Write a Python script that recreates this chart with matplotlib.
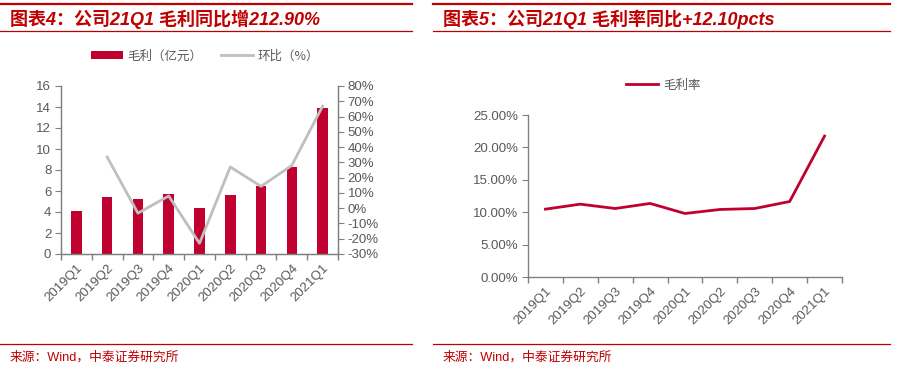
import matplotlib
matplotlib.use("Agg")
import matplotlib.pyplot as plt
from matplotlib.lines import Line2D
from matplotlib.patches import Patch
import numpy as np

plt.rcParams['font.family'] = ['Liberation Sans', 'Noto Sans CJK SC', 'DejaVu Sans']

quarters = ['2019Q1', '2019Q2', '2019Q3', '2019Q4', '2020Q1', '2020Q2', '2020Q3', '2020Q4', '2021Q1']
gross_profit = [4.1, 5.45, 5.25, 5.72, 4.38, 5.62, 6.47, 8.3, 13.9]  # 亿元
qoq_pct = [np.nan, 33.5, -3.3, 8.0, -23.0, 27.0, 14.3, 28.0, 66.8]  # %
gross_margin = [10.47, 11.24, 10.57, 11.35, 9.8, 10.42, 10.57, 11.65, 21.75]  # %

left_title = '图表4：公司21Q1 毛利同比增212.90%'
right_title = '图表5：公司21Q1 毛利率同比+12.10pcts'
source = '来源：Wind，中泰证券研究所'

RED = '#C00000'
BAR = '#C0002F'
GRAY_LINE = '#BFBFBF'
TXT = '#595959'
SPINE = '#808080'

W, H = 908, 373
fig = plt.figure(figsize=(W / 100, H / 100), dpi=100)

def fx(px):
    return px / W

def fy(py):
    return 1 - py / H

# Header / footer decorations
for x0, x1 in [(0, 412), (433, 890)]:
    fig.add_artist(Line2D([fx(x0), fx(x1)], [fy(4), fy(4)], color=RED, lw=1.6))
    fig.add_artist(Line2D([fx(x0), fx(x1)], [fy(31), fy(31)], color=RED, lw=0.9))
    fig.add_artist(Line2D([fx(x0), fx(x1)], [fy(344), fy(344)], color=RED, lw=0.9))

tfont = dict(family=['Liberation Sans', 'Noto Sans CJK SC'], weight='bold', style='italic',
             size=13, color=RED)
fig.text(fx(10), fy(19), left_title, ha='left', va='center', **tfont)
fig.text(fx(443), fy(19), right_title, ha='left', va='center', **tfont)
sfont = dict(family=['Liberation Sans', 'Noto Sans CJK SC'], size=9.2, color=RED)
fig.text(fx(10), fy(357), source, ha='left', va='center', **sfont)
fig.text(fx(443), fy(357), source, ha='left', va='center', **sfont)

x = np.arange(len(quarters))

def style_xaxis(ax):
    ax.set_xlim(-0.5, len(quarters) - 0.5)
    ax.set_xticks(x)
    ax.set_xticklabels(quarters, rotation=45, ha='right', va='top', rotation_mode='anchor',
                       fontsize=9.5, color=TXT)
    ax.set_xticks(np.arange(len(quarters) + 1) - 0.5, minor=True)
    ax.tick_params(axis='x', which='major', length=0, pad=6)
    ax.tick_params(axis='x', which='minor', length=4, color=SPINE, width=1)
    ax.spines['top'].set_visible(False)
    for s in ['left', 'bottom', 'right']:
        ax.spines[s].set_color(SPINE)
        ax.spines[s].set_linewidth(1)

# Left chart
axL = fig.add_axes([fx(61), fy(254), fx(338 - 61), (254 - 86) / H])
axL.bar(x, gross_profit, width=0.34, color=BAR, zorder=2)
axL.set_ylim(0, 16)
axL.set_yticks(np.arange(0, 17, 2))
axL.tick_params(axis='y', length=4, color=SPINE, labelsize=9.5, labelcolor=TXT, pad=3)
style_xaxis(axL)
axR = axL.twinx()
axR.plot(x, qoq_pct, color=GRAY_LINE, lw=2, zorder=3)
axR.set_ylim(-30, 80)
axR.set_yticks(np.arange(-30, 81, 10))
axR.set_yticklabels([f'{v}%' for v in range(-30, 81, 10)])
axR.tick_params(axis='y', length=4, color=SPINE, labelsize=9.5, labelcolor=TXT, pad=3)
axR.spines['top'].set_visible(False)
for s in ['left', 'bottom', 'right']:
    axR.spines[s].set_color(SPINE)

legfont = dict(family=['Noto Sans CJK SC', 'DejaVu Sans'], size=9)
leg = fig.legend(handles=[Patch(facecolor=BAR, label='毛利（亿元）'),
                          Line2D([], [], color=GRAY_LINE, lw=2, label='环比（%）')],
                 loc='center', bbox_to_anchor=(fx(205), fy(56)), ncol=2, frameon=False,
                 prop=legfont, handlelength=2.56, handleheight=0.55, columnspacing=1.44,
                 handletextpad=0.4)
for t in leg.get_texts():
    t.set_color(TXT)

# Right chart
ax2 = fig.add_axes([fx(528), fy(277), fx(842 - 528), (277 - 115) / H])
ax2.plot(x, gross_margin, color=BAR, lw=2)
ax2.set_ylim(0, 25)
ax2.set_yticks(np.arange(0, 26, 5))
ax2.set_yticklabels([f'{v:.2f}%' for v in np.arange(0, 26, 5)])
ax2.tick_params(axis='y', length=4, color=SPINE, labelsize=9.5, labelcolor=TXT, pad=3)
style_xaxis(ax2)
ax2.spines['right'].set_visible(False)

leg2 = fig.legend(handles=[Line2D([], [], color=BAR, lw=2, label='毛利率')],
                  loc='center', bbox_to_anchor=(fx(663), fy(85)), frameon=False,
                  prop=legfont, handlelength=2.56, handletextpad=0.4)
for t in leg2.get_texts():
    t.set_color(TXT)

fig.savefig('out.png', dpi=100, facecolor='white')
